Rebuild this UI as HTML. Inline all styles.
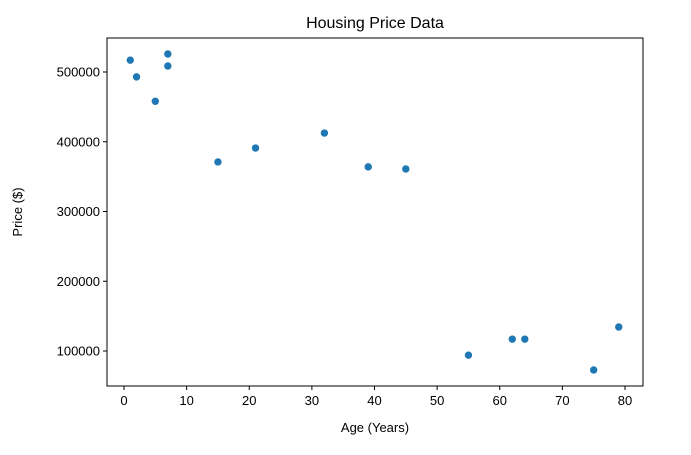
<!DOCTYPE html>
<html><head><meta charset="utf-8"><style>
body{margin:0;background:#fff;}
svg text{font-family:"Liberation Sans",sans-serif;fill:#000;}
</style></head><body>
<svg id="chart" width="691" height="450">
<text x="375" y="28" font-size="16" text-anchor="middle">Housing Price Data</text>
<rect x="107" y="38" width="536" height="348" fill="none" stroke="#000" stroke-width="1"/>
<g id="xt"></g><g id="yt"></g><g id="pts"></g>
<text x="375" y="432" font-size="13" text-anchor="middle">Age (Years)</text>
<text transform="translate(22,212) rotate(-90)" font-size="13" text-anchor="middle">Price ($)</text>
</svg>
<script>
const ages=[1,2,5,7,7,15,21,32,39,45,55,62,64,75,79];
const prices=[517000,493000,458000,525800,508600,371000,391000,412500,364000,361000,94000,117000,117000,72800,134400];
const xTicks=[0,10,20,30,40,50,60,70,80];
const yTicks=[100000,200000,300000,400000,500000];
const NS="http://www.w3.org/2000/svg";
function sx(v){return 124+v*(625-124)/80;}
function sy(v){return 351-(v-100000)*(351-72)/400000;}
function mk(t,a,p){const e=document.createElementNS(NS,t);for(const k in a)e.setAttribute(k,a[k]);p.appendChild(e);return e;}
const xt=document.getElementById('xt'),yt=document.getElementById('yt'),pts=document.getElementById('pts');
xTicks.forEach(v=>{
 const l=mk('line',{x1:sx(v),x2:sx(v),y1:386,y2:390,stroke:'#000'},xt);
 
 
 const t=mk('text',{x:sx(v),y:405,'font-size':13,'text-anchor':'middle'},xt);
 t.textContent=v;
 
 
});
yTicks.forEach(v=>{
 const l=mk('line',{x1:103,x2:107,y1:sy(v),y2:sy(v),stroke:'#000'},yt);
 
 
 const t=mk('text',{x:100,y:sy(v)+4.5,'font-size':13,'text-anchor':'end'},yt);
 t.textContent=v;
 
 
});
ages.forEach((a,i)=>{
 const c=mk('circle',{cx:sx(a),cy:sy(prices[i]),r:4,fill:'#1f77b4',stroke:'#fff','stroke-width':0.6},pts);
 
 
});
</script>
</body></html>
